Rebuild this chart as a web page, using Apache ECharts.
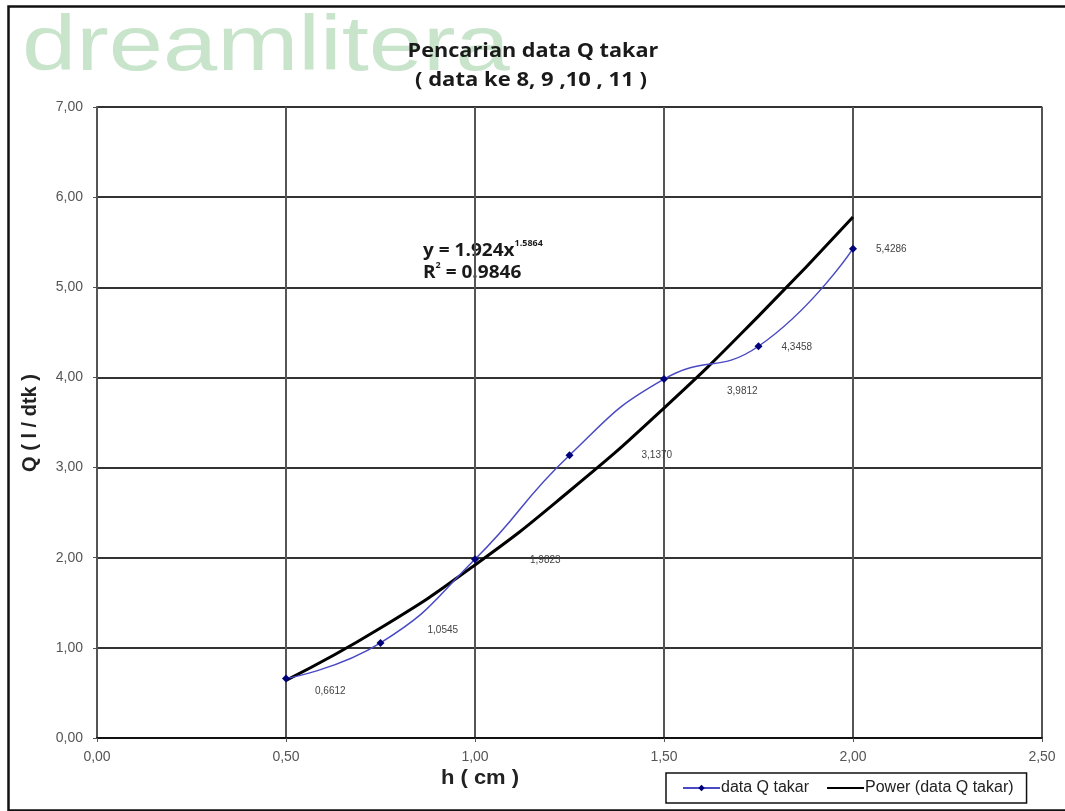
<!DOCTYPE html>
<html>
<head>
<meta charset="utf-8">
<script src="https://cdn.jsdelivr.net/npm/echarts@6/dist/echarts.min.js"></script>
<style>
  html, body { margin: 0; padding: 0; background: #fff; }
  #chart { width: 1065px; height: 811px; }
</style>
</head>
<body>
<div id="chart"></div>
<script>
// data
const hValues = [0.5, 0.75, 1.0, 1.25, 1.5, 1.75, 2.0]
const qTakar = [0.6612, 1.0545, 1.9823, 3.1370, 3.9812, 4.3458, 5.4286]
const qPower = [0.64, 1.22, 1.92, 2.74, 3.66, 4.68, 5.78]
const labelOffsets = [[20, 13], [38, -13], [46, 1], [63, 0], [54, 12], [14, 1], [14, 1]]

const fmt = v => v.toFixed(2).replace('.', ',')
const sans = '"Liberation Sans", Arial, sans-serif'
const titleFont = '"Open Sans", Lato, sans-serif'

const chart = echarts.init(document.getElementById('chart'))

const option = {
  backgroundColor: '#fff',
  animation: false,
  grid: { left: 97, right: 23, top: 107, bottom: 73, show: true, borderColor: '#9a9a9a', borderWidth: 1.5 },
  graphic: [
    { type: 'rect', left: 6, top: 4, shape: { width: 1070, height: 804 },
      style: { fill: 'none', stroke: '#111', lineWidth: 2.5 }, silent: true },
    { type: 'text', x: 22, y: 9, z: -1, scaleX: 1.25,
      style: { text: 'dreamlitera', fill: '#c8e4cb', font: '78px ' + sans } },
    { type: 'text', x: 533, y: 52, scaleX: 1.14,
      style: { text: 'Pencarian data Q takar', fill: '#1a1a1a', font: 'bold 19px ' + titleFont, align: 'center', verticalAlign: 'middle' } },
    { type: 'text', x: 531, y: 81, scaleX: 1.16,
      style: { text: '( data ke 8, 9 ,10 , 11 )', fill: '#1a1a1a', font: 'bold 19px ' + titleFont, align: 'center', verticalAlign: 'middle' } },
    { type: 'text', x: 423, y: 240, scaleX: 1.12,
      style: {
        text: '{b|y = 1.924x}{s|1.5864}\n{b|R}{s|2}{b| = 0.9846}',
        rich: {
          b: { fontFamily: titleFont, fontWeight: 'bold', fontSize: 17, fill: '#1a1a1a', lineHeight: 22 },
          s: { fontFamily: titleFont, fontWeight: 'bold', fontSize: 8, fill: '#1a1a1a', verticalAlign: 'top', lineHeight: 22, padding: [0, 0, 9, 0] }
        }
      } },
    { type: 'text', x: 480, y: 778, scaleX: 1.1,
      style: { text: 'h ( cm )', fill: '#222', font: 'bold 20px ' + sans, align: 'center', verticalAlign: 'middle' } },
    { type: 'text', x: 30, y: 423, rotation: Math.PI / 2,
      style: { text: 'Q ( l / dtk )', fill: '#222', font: 'bold 20px ' + sans, align: 'center', verticalAlign: 'middle' } }
  ],
  legend: {
    left: 666, top: 773,
    padding: [7, 13, 7, 16],
    itemGap: 17,
    itemWidth: 37, itemHeight: 8,
    borderColor: '#111', borderWidth: 1.5,
    textStyle: { fontFamily: sans, fontSize: 16, color: '#222', padding: [0, 0, 0, -4] },
    data: [
      { name: 'data Q takar' },
      { name: 'Power (data Q takar)', itemStyle: { opacity: 0 } }
    ]
  },
  xAxis: {
    type: 'value', min: 0, max: 2.5, interval: 0.5,
    axisLine: { lineStyle: { color: '#111', width: 2 } },
    axisTick: { show: true, length: 4, lineStyle: { color: '#555' } },
    axisLabel: { formatter: fmt, color: '#555', fontSize: 14, fontFamily: sans, margin: 12 },
    splitLine: { show: true, lineStyle: { color: '#555', width: 2 } }
  },
  yAxis: {
    type: 'value', min: 0, max: 7, interval: 1,
    axisLine: { show: true, lineStyle: { color: '#555', width: 2 } },
    axisTick: { show: true, length: 4, lineStyle: { color: '#555' } },
    axisLabel: { formatter: fmt, color: '#555', fontSize: 14, fontFamily: sans, margin: 14 },
    splitLine: { show: true, lineStyle: { color: '#333', width: 2 } }
  },
  series: [
    {
      name: 'Power (data Q takar)',
      type: 'line',
      smooth: true,
      symbol: 'none',
      lineStyle: { color: '#000', width: 3 },
      itemStyle: { color: '#000' },
      data: hValues.map((h, i) => [h, qPower[i]]),
      z: 3
    },
    {
      name: 'data Q takar',
      type: 'line',
      smooth: 0.5,
      symbol: 'diamond',
      symbolSize: 8,
      lineStyle: { color: '#4a4ac4', width: 1.5 },
      itemStyle: { color: '#00007a' },
      data: hValues.map((h, i) => ({
        value: [h, qTakar[i]],
        label: {
          show: true,
          position: 'right',
          offset: labelOffsets[i],
          formatter: qTakar[i].toFixed(4).replace('.', ','),
          fontSize: 10, color: '#444', fontFamily: sans
        }
      })),
      z: 4
    }
  ]
}

chart.setOption(option)
</script>
</body>
</html>
